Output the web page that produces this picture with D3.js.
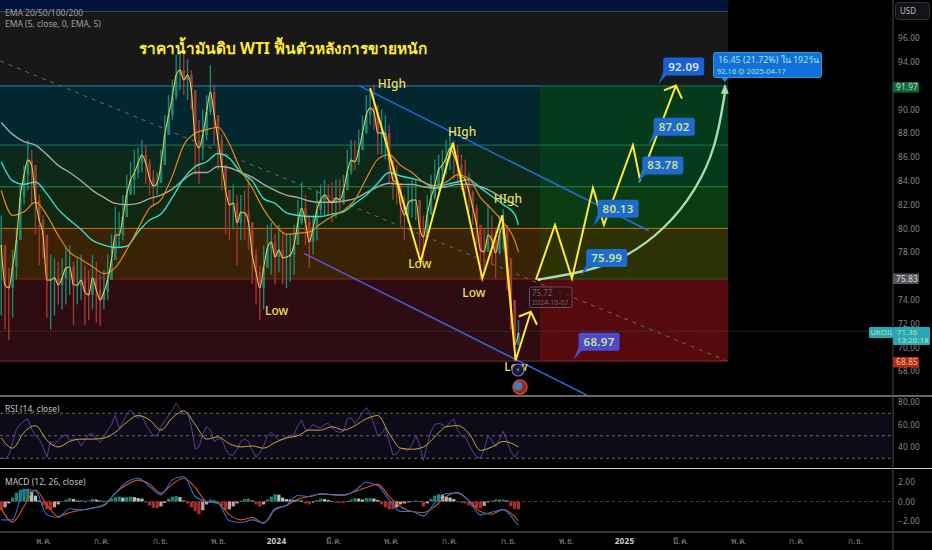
<!DOCTYPE html>
<html>
<head>
<meta charset="utf-8">
<script src="https://cdn.jsdelivr.net/npm/d3@7"></script>
<style>
  html, body { margin: 0; padding: 0; background: #000; }
  svg { display: block; }
  text { font-family: "Noto Sans", Roboto, "DejaVu Sans", sans-serif; }
</style>
</head>
<body>
<div id="chart"></div>
<script>
// Price bars, one every 4 days starting 289 days before 2024-01-01
const barHighs = [
  81.1,77.2,76.7,78.2,80.0,83.7,85.3,87.4,86.6,83.7,
  82.8,81.1,79.0,77.8,77.5,77.2,77.5,78.4,78.6,77.2,
  77.5,77.8,76.9,76.5,77.8,77.2,76.1,76.5,77.8,79.5,
  81.8,81.4,82.8,84.5,85.6,86.6,86.8,87.4,87.0,85.8,
  84.9,84.7,86.6,89.5,91.2,92.5,94.6,95.0,94.6,94.2,
  93.3,90.8,89.1,90.0,91.2,93.7,92.1,89.5,87.9,85.3,
  83.2,83.7,82.8,82.8,83.2,84.5,79.9,78.2,76.9,78.6,
  80.3,80.5,79.5,80.3,79.7,79.5,79.5,80.3,82.4,83.9,
  82.8,81.1,81.1,83.2,83.7,84.1,83.7,83.9,84.1,84.1,
  84.5,86.6,87.4,87.4,88.3,89.5,91.2,91.6,92.1,90.4,
  90.0,89.5,88.7,85.8,85.3,83.7,82.8,83.7,84.2,84.1,
  82.4,81.1,82.8,84.5,85.8,86.2,86.6,87.4,88.1,87.4,
  87.0,86.2,85.8,84.7,83.2,82.0,80.3,79.9,82.0,81.1,
  79.9,81.1,81.6,79.5,76.1,72.3,72.3];
const barLows = [
  72.7,71.5,70.6,72.5,75.7,79.7,82.0,83.2,82.0,79.5,
  76.9,77.5,72.5,71.5,72.7,73.6,73.2,73.6,74.4,71.9,
  73.6,74.0,71.9,72.3,73.2,72.1,71.8,73.2,74.0,75.7,
  77.8,78.4,79.0,81.6,82.8,82.8,84.2,84.7,83.7,82.8,
  82.0,82.8,83.9,86.6,88.3,89.1,90.8,91.6,91.2,90.8,
  90.0,84.5,83.7,85.8,87.4,89.5,87.0,84.9,83.2,79.5,
  79.0,79.9,76.9,79.0,79.0,78.2,75.3,73.6,72.3,73.2,
  76.9,76.1,75.3,76.3,75.3,75.0,75.5,76.1,79.0,80.3,
  78.6,76.7,77.8,79.0,81.1,81.1,81.1,80.5,80.9,81.4,
  82.0,83.2,84.5,84.9,85.3,86.6,87.9,88.7,88.3,86.2,
  86.2,85.8,83.7,82.4,82.0,80.3,79.0,80.5,80.9,80.7,
  77.8,77.2,79.5,81.1,82.4,83.2,83.7,84.5,84.9,84.1,
  83.7,83.2,82.4,81.4,80.3,78.6,75.7,76.5,78.2,76.9,
  75.8,77.8,78.2,74.8,71.5,68.9,70.2];
const barCloses = [
  78.61,75.25,75.0,76.76,79.03,82.64,84.49,85.75,85.33,82.39,
  80.71,79.45,75.67,75.67,75.84,75.25,75.84,76.68,76.76,75.25,
  75.25,75.67,74.66,74.41,75.84,74.83,73.99,74.66,75.67,77.35,
  79.45,79.45,80.96,82.81,84.07,84.66,85.5,86.17,85.5,84.24,
  83.57,83.82,85.33,87.85,89.53,91.04,92.89,93.31,92.47,92.89,
  91.63,87.43,86.76,87.85,89.78,91.46,89.53,87.43,85.33,83.23,
  81.97,82.14,80.46,81.38,81.3,80.54,77.77,76.34,75.0,76.68,
  78.36,78.86,77.6,78.19,77.52,77.6,77.77,78.61,80.46,81.72,
  80.54,78.86,80.04,81.55,82.39,82.81,82.39,82.14,82.56,82.39,
  83.23,84.74,85.75,85.58,86.59,88.02,89.53,90.12,89.78,88.02,
  88.02,88.02,85.75,84.07,83.82,81.97,81.13,82.14,82.39,82.39,
  80.04,79.28,81.13,82.56,83.65,84.91,85.33,85.92,86.76,86.17,
  85.33,84.41,84.07,83.06,81.72,80.29,78.19,78.02,79.45,79.03,
  77.94,79.45,80.29,77.52,73.99,70.21,71.22];

// Moving averages, read every third bar plus the last bar
const emaOrange = [83.2,81.1,81.4,82.2,81.1,79.4,78.0,77.4,76.8,76.2,76.7,78.2,80.0,81.7,82.4,84.4,87.0,88.0,88.3,88.5,87.1,84.9,83.4,81.6,80.3,79.5,79.6,79.7,80.4,81.0,81.5,82.4,84.2,85.8,86.2,85.3,84.7,83.9,83.6,83.9,84.5,84.2,82.6,81.6,80.5,79.0,78.0];
const emaCyan = [85.6,84.0,83.7,83.9,82.9,81.6,80.7,79.9,79.0,78.6,78.4,78.5,79.7,80.7,81.2,82.6,84.2,85.2,85.6,86.3,85.9,84.7,84.0,82.5,82.1,81.3,81.1,81.0,81.0,81.2,81.4,82.1,82.8,83.8,84.7,84.4,84.2,83.9,83.4,83.7,83.9,84.1,83.4,82.7,82.0,81.2,80.3];
const emaGrey = [88.9,87.9,87.3,87.0,86.2,85.3,84.7,84.0,83.2,82.6,82.1,82.0,82.1,82.5,82.8,83.3,84.1,84.7,84.7,85.2,85.1,84.7,84.3,83.7,83.2,82.8,82.6,82.3,82.2,82.2,82.3,82.5,83.0,83.5,83.8,83.7,83.7,83.5,83.4,83.5,83.7,83.7,83.5,83.1,82.5,82.0,81.8];

// RSI per bar, its average every third bar plus the last bar
const rsiValues = [
  31,29,33,44,56,60,63,65,56,50,47,40,31,45,42,46,49,51,46,47,
  47,41,46,51,52,47,44,49,55,60,68,57,62,69,73,68,66,68,60,55,
  50,50,58,63,68,73,79,74,69,71,58,38,40,51,58,55,45,47,47,38,
  33,33,38,45,47,45,37,31,35,41,50,53,50,46,47,49,50,51,59,64,
  55,56,60,58,57,60,61,57,54,53,54,65,66,61,65,71,75,70,60,50,
  52,57,45,33,34,39,38,37,42,50,42,28,42,54,60,61,60,58,62,65,
  55,50,49,42,36,31,30,38,50,46,40,47,54,45,36,31,36];
const rsiAverage = [48,39,53,59,46,40,45,47,47,48,53,62,68,64,55,66,72,60,47,49,43,40,41,39,44,48,50,55,55,58,55,59,65,68,52,39,38,40,49,58,59,52,37,40,45,42,40];

// MACD lines every third bar plus the last bar, histogram per bar
const macdLine = [-1.88,-1.88,1.2,1.09,-1.37,-1.64,-0.75,-0.86,-0.68,-0.34,0.86,1.98,2.39,1.54,0.68,2.22,2.57,0.51,0,-0.17,-1.98,-2.15,-1.88,-2.22,-0.75,-0.38,0.62,0.51,0.82,0.68,0.62,1.13,1.98,1.61,0.17,-1.03,-1.03,-1.47,-0.17,0.82,0.86,0.07,-1.37,-1.09,-0.86,-1.98,-2.46];
const macdSignal = [-0.68,-2.12,-0.51,1.2,-0.34,-1.54,-1.13,-0.89,-0.68,-0.41,0.86,1.71,2.19,1.78,0.86,1.78,2.39,1.44,0,-0.17,-1.37,-1.88,-1.64,-2.22,-0.86,-0.41,0.24,0.51,0.75,0.72,0.68,1.03,1.44,1.78,0.51,-0.51,-1.03,-1.13,-0.51,0.51,0.92,0.07,-1.03,-1.3,-0.82,-1.54,-1.98];
const macdHist = [
  -0.9,-0.6,-0.2,0.4,0.9,1.2,1.3,1.3,1.0,0.6,
  0.1,-0.4,-0.8,-0.85,-0.6,-0.3,0.05,0.2,0.35,0.25,
  0.1,0.15,0.05,0.1,0.25,0.2,0.1,0.05,0.1,0.3,
  0.45,0.5,0.4,0.45,0.5,0.45,0.35,0.3,-0.1,-0.4,
  -0.65,-0.7,-0.5,-0.15,0.3,0.5,0.55,0.45,0.1,-0.2,
  -0.6,-1.0,-1.3,-0.9,-0.3,0.2,0.1,-0.2,-0.5,-0.85,
  -0.8,-0.5,-0.2,0.1,0.25,0.3,0.1,-0.3,-0.5,-0.3,
  0.2,0.5,0.75,0.7,0.4,0.25,0.2,0.15,0.2,0.1,
  -0.2,-0.3,-0.1,0.15,0.3,0.25,0.15,0.05,-0.1,-0.15,
  -0.15,-0.05,0.2,0.35,0.3,0.2,0.35,0.35,0.3,0.15,
  -0.3,-0.6,-0.8,-0.8,-0.6,-0.3,-0.2,-0.1,-0.05,0.1,
  0.05,-0.5,-0.2,0.3,0.6,0.75,0.7,0.5,0.4,0.25,
  -0.05,-0.15,-0.2,-0.4,-0.6,-0.7,-0.7,-0.45,-0.1,0.1,
  0.2,0.2,0.2,0.1,-0.5,-0.75,-0.8];

// Fibonacci zones, prices from top to bottom
const fibPrices = [91.97, 87.0, 83.5, 80.0, 75.75, 68.85];
const fibLeftFills = ["#02272e", "#0b2a1c", "#112710", "#3a2204", "#2f0c12"];
const fibRightFills = ["#063a1d", "#063a1d", "#0b3b11", "#2d3204", "#570a0d"];
const fibLeftLines = ["#1a86c8", "#137a68", "#2a8a4a", "#c8700f", "#8e2424", "#6a3434"];
const fibRightLines = ["#0f7a5c", "#137a5c", "#2a8a4a", "#c8700f", "#2f5f34", "#8a3030"];

// Drawn lines, [day from 2024-01-01, price]
const zigzagOne = [[99,91.8],[152,77.2],[186,87.2],[217,75.8],[238,81.1],[252,68.9],[268,73.0]];
const zigzagOneHead = [[255.5,72.6],[268,73.0],[274.5,71.9]];
const zigzagTwo = [[273.4,75.7],[293.4,80.3],[311.3,75.8],[333.3,83.4],[344.9,80.3],[375.4,87.0],[382.8,84.1],[420.6,92.0]];
const zigzagTwoHead = [[408,91.6],[420.6,92.0],[427,90.9]];
const upperChannel = [[87.3,92.0],[392.2,79.8]];
const lowerChannel = [[29.4,77.9],[329.1,65.9]];
const dashedTrend = [[-290,94.07],[473.2,68.9]];
const forecastCurve = [[275.5,75.7],[322.8,76.3],[368,77.5],[410,80.0],[441.6,83.2],[462.7,86.8],[472.1,91.4]];

const highLabels = [[107,91.8],[181,87.8],[229,82.1]];
const lowLabels = [[-11.5,72.7],[139,76.7],[196,74.2],[240,68.0]];

// Callouts: text, tip day, tip price
const calloutTexts = ["92.09", "87.02", "83.78", "80.13", "75.99", "68.97"];
const calloutDays = [402, 392, 380, 333, 321, 313];
const calloutPrices = [92.09, 87.02, 83.78, 80.13, 75.99, 68.97];
const calloutFills = ["#1a5fd8", "#1e6bd0", "#1e6bd0", "#1e6bd0", "#1e6bd0", "#4c4bc9"];

// Axis labels
const priceTicks = [96, 94, 90, 88, 86, 84, 82, 80, 78, 74, 72, 70, 68];
const rsiTicks = [80, 60, 40];
const rsiLevels = [70, 50, 30];
const macdTicks = [2, 0, -2];
const timeDays = [-245, -184, -122, -61, 0, 60, 121, 182, 244, 305, 366, 425, 486, 547, 609];
const timeLabels = ["พ.ค.", "ก.ค.", "ก.ย.", "พ.ย.", "2024", "มี.ค.", "พ.ค.", "ก.ค.", "ก.ย.", "พ.ย.", "2025", "มี.ค.", "พ.ค.", "ก.ค.", "ก.ย."];

const width = 932;
const height = 550;
const plotRight = 728;
const axisX = 893;
const splitX = 540;

const svg = d3.select("#chart").append("svg")
    .attr("width", width)
    .attr("height", height);

const x = d3.scaleLinear().domain([0, 366]).range([276, 624]);
const y = d3.scaleLinear().domain([96, 68]).range([38, 371.2]);
const yRsi = d3.scaleLinear().domain([80, 40]).range([402, 447]);
const yMacd = d3.scaleLinear().domain([2, -2]).range([482, 521]);

const barDay = i => -289 + 4 * i;
const sparseDay = i => i === 46 ? barDay(136) : barDay(i * 3);

svg.append("defs").append("clipPath").attr("id", "mainClip")
  .append("rect").attr("x", 0).attr("y", 12).attr("width", axisX).attr("height", 383);

// top band and chart background
svg.append("rect").attr("width", plotRight).attr("height", 11).attr("fill", "#03133a");
svg.append("rect").attr("y", 12).attr("width", plotRight).attr("height", y(fibPrices[0]) - 12).attr("fill", "#181818");
svg.append("line").attr("x1", 0).attr("x2", plotRight).attr("y1", 11.5).attr("y2", 11.5).attr("stroke", "#3a3f5a");

// fibonacci zones
fibLeftFills.forEach((fill, i) => {
    const top = y(fibPrices[i]);
    const h = y(fibPrices[i + 1]) - top;
    svg.append("rect").attr("x", 0).attr("y", top).attr("width", splitX).attr("height", h).attr("fill", fill);
    svg.append("rect").attr("x", splitX).attr("y", top).attr("width", plotRight - splitX).attr("height", h).attr("fill", fibRightFills[i]);
});
fibPrices.forEach((p, i) => {
    svg.append("line").attr("x1", 0).attr("x2", splitX).attr("y1", y(p)).attr("y2", y(p))
        .attr("stroke", fibLeftLines[i]).attr("stroke-width", 1);
    svg.append("line").attr("x1", splitX).attr("x2", plotRight).attr("y1", y(p)).attr("y2", y(p))
        .attr("stroke", fibRightLines[i]).attr("stroke-width", 1);
});

// rsi background
svg.append("rect").attr("x", 0).attr("width", axisX - 2)
    .attr("y", yRsi(70)).attr("height", yRsi(30) - yRsi(70)).attr("fill", "#0e0b18");

const main = svg.append("g").attr("clip-path", "url(#mainClip)");

const toLine = d3.line().x(d => x(d[0])).y(d => y(d[1]));

// dashed trend and current price line
main.append("path").attr("d", toLine(dashedTrend)).attr("fill", "none")
    .attr("stroke", "#6e6a6a").attr("stroke-width", 1).attr("stroke-dasharray", "4,5");
main.append("line").attr("x1", 0).attr("x2", axisX).attr("y1", y(71.36)).attr("y2", y(71.36))
    .attr("stroke", "#2f5a58").attr("stroke-width", 1).attr("stroke-dasharray", "1,1.5");

// candles
const bars = barCloses.map((c, i) => ({
    day: barDay(i),
    high: barHighs[i],
    low: barLows[i],
    close: c,
    open: i === 0 ? c : barCloses[i - 1]
}));
const barColor = d => d.close >= d.open ? "#1f8577" : "#a13a34";

main.selectAll(".wick").data(bars).enter().append("line")
    .attr("class", "wick")
    .attr("x1", d => x(d.day)).attr("x2", d => x(d.day))
    .attr("y1", d => y(d.high)).attr("y2", d => y(d.low))
    .attr("stroke", barColor).attr("stroke-width", 1.4);
main.selectAll(".body").data(bars).enter().append("rect")
    .attr("class", "body")
    .attr("x", d => x(d.day) - 1.3)
    .attr("width", 2.6)
    .attr("y", d => y(Math.max(d.open, d.close)))
    .attr("height", d => Math.max(1, Math.abs(y(d.open) - y(d.close))))
    .attr("fill", barColor);

// moving averages
const smooth = d3.line().x((d, i) => x(sparseDay(i))).y(d => y(d)).curve(d3.curveMonotoneX);
[[emaGrey, "#a9a6a6", 1.4], [emaCyan, "#2fe0cf", 1.4], [emaOrange, "#e8861e", 1.2]].forEach(s => {
    main.append("path").attr("d", smooth(s[0])).attr("fill", "none")
        .attr("stroke", s[1]).attr("stroke-width", s[2]);
});
main.append("path")
    .attr("d", d3.line().x((d, i) => x(barDay(i))).y(d => y(d)).curve(d3.curveMonotoneX)(barCloses))
    .attr("fill", "none").attr("stroke", "#f3dc4a").attr("stroke-width", 1.1).attr("stroke-opacity", 0.9);

// channel lines
main.append("path").attr("d", toLine(upperChannel)).attr("fill", "none")
    .attr("stroke", "#1f6fe0").attr("stroke-width", 1.5);
const channelGrad = svg.select("defs").append("linearGradient").attr("id", "channelGrad")
    .attr("gradientUnits", "userSpaceOnUse")
    .attr("x1", x(lowerChannel[0][0])).attr("x2", x(lowerChannel[1][0])).attr("y1", 0).attr("y2", 0);
channelGrad.append("stop").attr("offset", "0%").attr("stop-color", "#5d55d8");
channelGrad.append("stop").attr("offset", "100%").attr("stop-color", "#1a6fe0");
main.append("path").attr("d", toLine(lowerChannel)).attr("fill", "none")
    .attr("stroke", "url(#channelGrad)").attr("stroke-width", 1.5);

// forecast curve with its arrow
main.append("path").attr("d", d3.line().x(d => x(d[0])).y(d => y(d[1])).curve(d3.curveBasis)(forecastCurve))
    .attr("fill", "none").attr("stroke", "#a8dcb0").attr("stroke-width", 2.4);
const tipX = x(forecastCurve[6][0]);
const tipY = y(92.16);
main.append("path").attr("d", `M${tipX},${tipY}l4,10h-8z`).attr("fill", "#a8dcb0");
main.append("circle").attr("cx", x(forecastCurve[0][0]) + 1).attr("cy", y(forecastCurve[0][1])).attr("r", 1.5).attr("fill", "#d8e8b8");

// yellow zigzags
[zigzagOne, zigzagOneHead, zigzagTwo, zigzagTwoHead].forEach(z => {
    main.append("path").attr("d", toLine(z)).attr("fill", "none")
        .attr("stroke", "#ffe838").attr("stroke-width", 2).attr("stroke-linejoin", "miter");
});

// high and low labels
const swingLabel = (list, word) => {
    svg.selectAll(".swing" + word).data(list).enter().append("text")
        .attr("class", "swing" + word)
        .attr("x", d => x(d[0]))
        .attr("y", d => y(d[1]))
        .attr("fill", "#ecdf5e").attr("font-size", 12).attr("font-weight", 500)
        .text(word);
};
swingLabel(highLabels, "HIgh");
swingLabel(lowLabels, "Low");

// event icons under the last low
svg.append("circle").attr("cx", 518).attr("cy", 370).attr("r", 6).attr("fill", "#1c1830").attr("stroke", "#7a6cc0").attr("stroke-width", 1.2);
svg.append("text").attr("x", 518).attr("y", 373).attr("text-anchor", "middle").attr("fill", "#a89ad8").attr("font-size", 8).text("⚡");
svg.append("circle").attr("cx", 520).attr("cy", 387).attr("r", 7).attr("fill", "#8a2a20").attr("stroke", "#d8402a").attr("stroke-width", 1.5);
svg.append("circle").attr("cx", 518).attr("cy", 386).attr("r", 4.5).attr("fill", "#4a7ab0");

// callouts
calloutTexts.forEach((t, i) => {
    const tx = x(calloutDays[i]);
    const ty = y(calloutPrices[i]);
    const g = svg.append("g");
    const bx = tx + 5;
    const by = ty - 27;
    g.append("path").attr("d", `M${tx},${ty}L${bx + 1},${by + 12}L${bx + 8},${by + 12}Z`).attr("fill", calloutFills[i]);
    g.append("rect").attr("x", bx).attr("y", by).attr("width", 41).attr("height", 18).attr("rx", 2.5).attr("fill", calloutFills[i]);
    g.append("text").attr("x", bx + 20.5).attr("y", by + 13).attr("text-anchor", "middle")
        .attr("fill", i === 0 ? "#dbe8c8" : "#cfe08a").attr("font-size", 11.5).attr("font-weight", 600)
        .attr("letter-spacing", 0.3).text(t);
});

// date range box
svg.append("path").attr("d", `M${tipX - 4},77L${tipX + 4},77L${tipX},82Z`).attr("fill", "#1b9ad6");
svg.append("rect").attr("x", 713.5).attr("y", 52.5).attr("width", 108).attr("height", 25).attr("rx", 2)
    .attr("fill", "#1170dc").attr("stroke", "#20a0d8");
svg.append("text").attr("x", 718).attr("y", 63).attr("fill", "#a8e8c8").attr("font-size", 8.9).text("16.45 (21.72%) ใน 192วัน");
svg.append("text").attr("x", 717).attr("y", 73.5).attr("fill", "#a8e8c8").attr("font-size", 7.5).text("92.16 ⏣ 2025-04-17");

// start point label
svg.append("rect").attr("x", 529.5).attr("y", 287).attr("width", 42.5).attr("height", 20.5).attr("rx", 2)
    .attr("fill", "#2c0c0e").attr("fill-opacity", 0.6).attr("stroke", "#5e5558");
svg.append("text").attr("x", 532).attr("y", 296).attr("fill", "#6e686a").attr("font-size", 8).text("75.72");
svg.append("text").attr("x", 532).attr("y", 304.5).attr("fill", "#6e686a").attr("font-size", 7).text("2024-10-07");

// title
svg.append("text").attr("x", 139).attr("y", 54).attr("fill", "#ffe93b")
    .attr("font-size", 15.4).attr("font-weight", 700).text("ราคาน้ำมันดิบ WTI ฟื้นตัวหลังการขายหนัก");

// legends
const legend = (tx, ty, s, c) => svg.append("text").attr("x", tx).attr("y", ty).attr("fill", c).attr("font-size", 8.5).text(s);
legend(5, 16, "EMA 20/50/100/200", "#a0a0a0");
legend(5, 27, "EMA (5, close, 0, EMA, 5)", "#a0a0a0");
legend(5, 412, "RSI (14, close)", "#c4c4c4");
legend(5, 485, "MACD (12, 26, close)", "#c4c4c4");

// rsi pane
rsiLevels.forEach(v => {
    svg.append("line").attr("x1", 0).attr("x2", axisX - 2).attr("y1", yRsi(v)).attr("y2", yRsi(v))
        .attr("stroke", "#6a6a6a").attr("stroke-dasharray", "3,3");
});
svg.append("path").attr("fill", "none").attr("stroke", "#5f47a6").attr("stroke-width", 0.9)
    .attr("d", d3.line().x((d, i) => x(barDay(i))).y(d => yRsi(d))(rsiValues));
svg.append("path").attr("fill", "none").attr("stroke", "#c9a93c").attr("stroke-width", 1)
    .attr("d", d3.line().x((d, i) => x(sparseDay(i))).y(d => yRsi(d)).curve(d3.curveMonotoneX)(rsiAverage));

// macd pane
svg.append("line").attr("x1", 0).attr("x2", axisX - 2).attr("y1", yMacd(0)).attr("y2", yMacd(0))
    .attr("stroke", "#444").attr("stroke-dasharray", "3,3");
const histColor = (d, i) => {
    const prev = i === 0 ? d : macdHist[i - 1];
    if (d >= 0) return d >= prev ? "#1f8577" : "#b4c4c0";
    return d <= prev ? "#a8302c" : "#c9a0a0";
};
svg.selectAll(".hist").data(macdHist).enter().append("rect")
    .attr("class", "hist")
    .attr("x", (d, i) => x(barDay(i)) - 1.6)
    .attr("width", 3.2)
    .attr("y", d => Math.min(yMacd(d), yMacd(0)))
    .attr("height", d => Math.abs(yMacd(d) - yMacd(0)))
    .attr("fill", histColor);
[[macdSignal, "#d9541e"], [macdLine, "#2a72d8"]].forEach(s => {
    svg.append("path").attr("fill", "none").attr("stroke", s[1]).attr("stroke-width", 1.1)
        .attr("d", d3.line().x((d, i) => x(sparseDay(i))).y(d => yMacd(d)).curve(d3.curveMonotoneX)(s[0]));
});

// pane separators
[[396, "#8a8a8a", 1.5], [468.5, "#c8c8c8", 1], [532, "#6a6a6a", 1]].forEach(s => {
    svg.append("line").attr("x1", 0).attr("x2", width).attr("y1", s[0]).attr("y2", s[0])
        .attr("stroke", s[1]).attr("stroke-width", s[2]);
});
svg.append("line").attr("x1", axisX).attr("x2", axisX).attr("y1", 0).attr("y2", height).attr("stroke", "#4c4c4c");

// axes
const styleAxis = g => {
    g.select(".domain").remove();
    g.selectAll(".tick line").remove();
    g.selectAll("text").attr("fill", "#8a8a8a").attr("font-size", 8.2).attr("letter-spacing", 0.2)
        .style("font-family", '"Noto Sans", sans-serif');
};
svg.append("g").attr("transform", `translate(${axisX},0)`)
    .call(d3.axisRight(y).tickValues(priceTicks).tickSize(0).tickPadding(5).tickFormat(d3.format(".2f")))
    .call(styleAxis);
svg.append("g").attr("transform", `translate(${axisX},0)`)
    .call(d3.axisRight(yRsi).tickValues(rsiTicks).tickSize(0).tickPadding(5).tickFormat(d3.format(".2f")))
    .call(styleAxis);
svg.append("g").attr("transform", `translate(${axisX},0)`)
    .call(d3.axisRight(yMacd).tickValues(macdTicks).tickSize(0).tickPadding(5).tickFormat(d3.format(".2f")))
    .call(styleAxis);
svg.append("g").attr("transform", "translate(0,532)")
    .call(d3.axisBottom(x).tickValues(timeDays).tickSize(0).tickPadding(6).tickFormat((d, i) => timeLabels[i]))
    .call(styleAxis)
    .selectAll("text")
    .filter((d, i) => timeLabels[i].startsWith("20"))
    .attr("fill", "#c8c8c8").attr("font-weight", 700);

// price tags on the axis
const tag = (bx, by, w, h, fill, lines, color, size) => {
    svg.append("rect").attr("x", bx).attr("y", by).attr("width", w).attr("height", h).attr("rx", 1).attr("fill", fill);
    lines.forEach(l => {
        svg.append("text").attr("x", bx + l[1]).attr("y", by + l[2]).attr("fill", color).attr("font-size", size).attr("letter-spacing", 0.2).text(l[0]);
    });
};
svg.append("rect").attr("x", 895.5).attr("y", 2.5).attr("width", 34).attr("height", 17).attr("rx", 3)
    .attr("fill", "#13131a").attr("stroke", "#333");
svg.append("text").attr("x", 900).attr("y", 14).attr("fill", "#bbb").attr("font-size", 8).text("USD");
tag(893, 82, 26, 10.5, "#0d6b3a", [["91.97", 3, 8]], "#c8d8c0", 8.2);
tag(893, 273.5, 26, 10.5, "#55555f", [["75.83", 3, 8]], "#dcdcdc", 8.2);
tag(893, 357, 26, 10.5, "#b02a20", [["68.85", 3, 8]], "#f5c070", 8.2);
tag(869, 327, 24, 11, "#2aa6b8", [["UKOIL", 1.5, 8.2]], "#b9f0a0", 7.4);
tag(893, 327, 37, 18, "#2aa6b8", [["71.36", 4, 7.8], ["13:20:18", 4, 15.8]], "#b9f0a0", 7.6);
</script>
</body>
</html>
